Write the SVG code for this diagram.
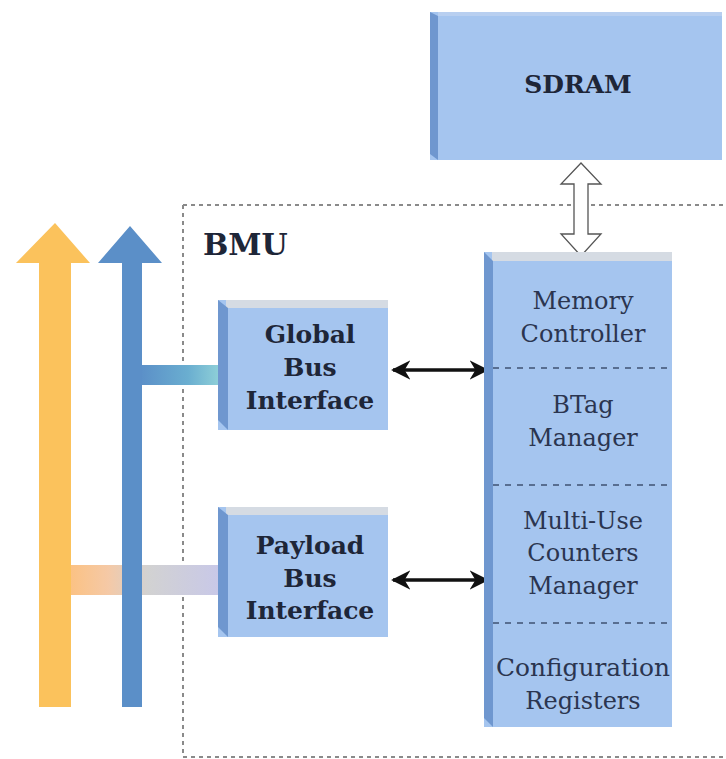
<svg xmlns="http://www.w3.org/2000/svg" width="726" height="759" viewBox="0 0 726 759">
<style>
.box{fill:#a5c5ef}
.side{fill:#6f97cf}
.top{fill:#d5dbe3}
.bl{font-family:"DejaVu Serif","Liberation Serif",serif;font-weight:bold;font-size:25px;fill:#1e2638;text-anchor:middle}
.rg{font-family:"DejaVu Serif","Liberation Serif",serif;font-size:24px;fill:#2b3550;text-anchor:middle}
.div{stroke:#3f5273;stroke-width:1.3;stroke-dasharray:6 6;fill:none}
</style>
<defs>
<linearGradient id="gb" x1="0" x2="1" y1="0" y2="0">
<stop offset="0" stop-color="#5b8fc8"/><stop offset="0.6" stop-color="#6aaed0"/><stop offset="1" stop-color="#8fd0d8"/>
</linearGradient>
<linearGradient id="gp" x1="0" x2="1" y1="0" y2="0">
<stop offset="0" stop-color="#fdc07a"/><stop offset="0.3" stop-color="#f5c9a6"/><stop offset="0.55" stop-color="#d2d2d2"/><stop offset="1" stop-color="#c8c8e8"/>
</linearGradient>
<marker id="ah" viewBox="0 0 10 10" refX="9" refY="5" markerWidth="5.5" markerHeight="5.5" orient="auto-start-reverse">
<path d="M0,0 L10,5 L0,10 L3,5 Z" fill="#111"/>
</marker>
</defs>

<g id="bmu-frame">
<path d="M183,205 H726 M183,205 V757 H726" fill="none" stroke="#8a8a8a" stroke-width="2" stroke-dasharray="4 4"/>
<text x="203" y="255" font-family="DejaVu Serif, Liberation Serif, serif" font-weight="bold" font-size="30" fill="#1e2638">BMU</text>
</g>

<g id="sdram">
<rect class="box" x="430" y="12" width="292" height="148"/>
<polygon class="side" points="430,12 438,16 438,160 430,154"/>
<rect x="438" y="12" width="284" height="4" fill="#b8cff0"/>
<text class="bl" x="578" y="93" font-size="24">SDRAM</text>
</g>

<g id="connectors">
<rect x="60" y="565" width="160" height="30" fill="url(#gp)"/>
<rect x="140" y="365" width="80" height="20" fill="url(#gb)"/>
<polygon points="39,707 71,707 71,263 90,263 55,223 16,263 39,263" fill="#fbc25c"/>
<polygon points="122,707 142,707 142,263 162,263 130,226 98,263 122,263" fill="#5b8fc8"/>
<polygon points="581,163 601,184 588,184 588,234 601,234 581,256 561,234 574,234 574,184 561,184 Z" fill="#fff" stroke="#555" stroke-width="1.3"/>
<line x1="393" y1="370" x2="487" y2="370" stroke="#111" stroke-width="3.5" marker-start="url(#ah)" marker-end="url(#ah)"/>
<line x1="393" y1="580" x2="487" y2="580" stroke="#111" stroke-width="3.5" marker-start="url(#ah)" marker-end="url(#ah)"/>
</g>

<g id="global-bus">
<rect class="box" x="218" y="300" width="170" height="130"/>
<rect class="top" x="226" y="300" width="162" height="8"/>
<polygon class="side" points="218,300 228,308 228,430 218,420"/>
<text class="bl" x="310" y="343">Global</text>
<text class="bl" x="310" y="376">Bus</text>
<text class="bl" x="310" y="409">Interface</text>
</g>

<g id="payload-bus">
<rect class="box" x="218" y="507" width="170" height="130"/>
<rect class="top" x="226" y="507" width="162" height="8"/>
<polygon class="side" points="218,507 228,515 228,637 218,627"/>
<text class="bl" x="310" y="554">Payload</text>
<text class="bl" x="310" y="587">Bus</text>
<text class="bl" x="310" y="619">Interface</text>
</g>

<g id="main-block">
<rect class="box" x="484" y="252" width="188" height="475"/>
<rect class="top" x="492" y="252" width="180" height="9"/>
<polygon class="side" points="484,252 493,261 493,727 484,718"/>
<line class="div" x1="493" y1="368" x2="672" y2="368"/>
<line class="div" x1="493" y1="485" x2="672" y2="485"/>
<line class="div" x1="493" y1="623" x2="672" y2="623"/>
</g>

<g id="memory-controller"><text class="rg" x="583" y="309">Memory</text><text class="rg" x="583" y="342">Controller</text></g>
<g id="btag-manager"><text class="rg" x="583" y="413">BTag</text><text class="rg" x="583" y="446">Manager</text></g>
<g id="multi-use"><text class="rg" x="583" y="529">Multi-Use</text><text class="rg" x="583" y="561">Counters</text><text class="rg" x="583" y="594">Manager</text></g>
<g id="config-regs"><text class="rg" x="583" y="676" textLength="174" lengthAdjust="spacingAndGlyphs">Configuration</text><text class="rg" x="583" y="709">Registers</text></g>
</svg>
